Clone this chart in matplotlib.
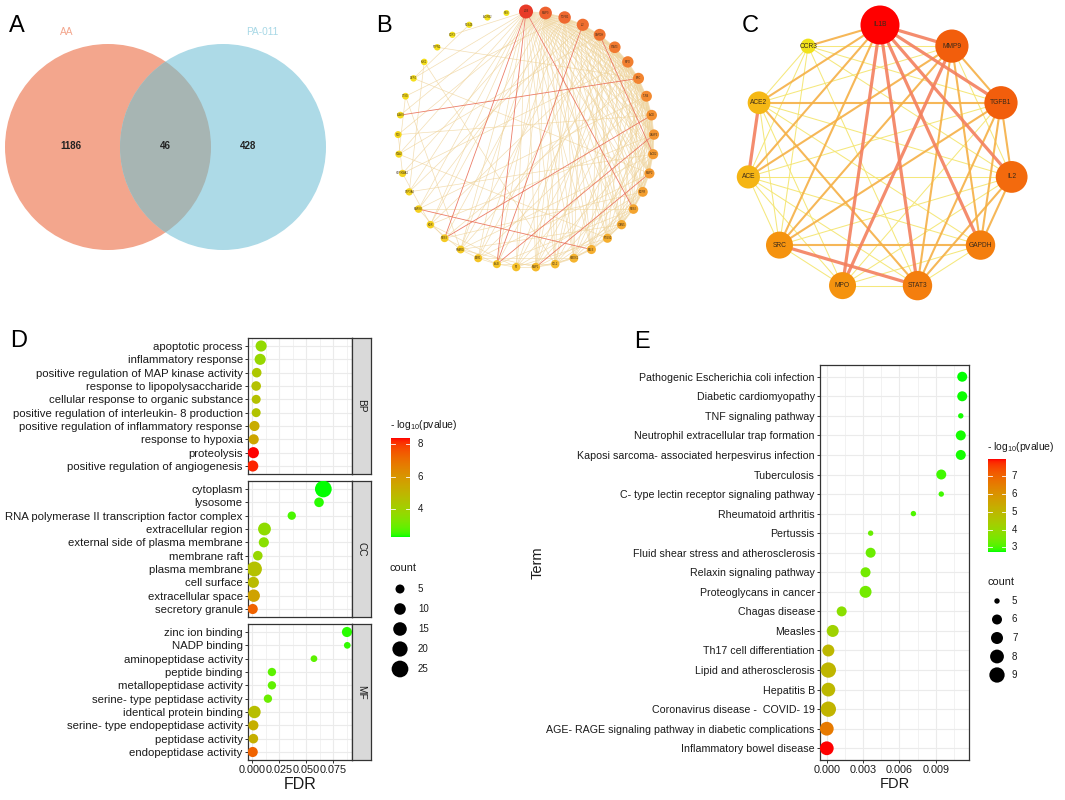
import numpy as np
import matplotlib.pyplot as plt
from matplotlib.patches import Circle
from matplotlib.colors import LinearSegmentedColormap

plt.rcParams['font.family'] = ['Liberation Sans', 'DejaVu Sans']

W, H, DPI = 1065, 800, 100

# ---------------------------------------------------------
# data
# ---------------------------------------------------------
venn_sets = ['AA', 'PA-011']
venn_counts = [1186, 46, 428]          # AA only, both, PA-011 only

b_genes = ['IL1B', 'MMP9', 'TGFB1', 'IL2', 'GAPDH', 'STAT3', 'MPO', 'SRC', 'TLR4', 'ACE',
           'CASP3', 'ACE2', 'MMP2', 'EGFR', 'NOS2', 'ICAM1', 'PTGS2', 'SELE', 'HMOX1', 'CCL2',
           'MMP1', 'F2', 'ALB', 'ESR1', 'PPARG', 'NOS3', 'KDR', 'MAPK8', 'CYP3A4', 'HSP90AA1',
           'PLAU', 'F10', 'ELANE', 'CTSG', 'DPP4', 'KLK1', 'PTPN1', 'CCR3', 'PDE4B', 'ADRB2', 'REN']
b_degree = [32, 27, 26, 25, 24, 23, 22, 21, 20, 19, 18, 17, 17, 16, 15, 14, 13, 13, 12, 11,
            11, 10, 9, 9, 8, 8, 7, 7, 6, 6, 5, 5, 4, 4, 3, 3, 3, 2, 2, 2, 1]
b_links = {
    0: [1, 2, 3, 4, 5, 6, 7, 8, 9, 10, 11, 12, 13, 14, 15, 16, 17, 18, 19, 20, 21, 22, 23, 24,
        25, 26, 27, 28, 30, 32, 34, 37],
    1: [2, 3, 4, 5, 6, 7, 8, 9, 10, 11, 12, 13, 14, 15, 16, 17, 18, 19, 20, 21, 22, 24, 26, 29, 31],
    2: [3, 4, 5, 6, 7, 8, 9, 10, 11, 12, 13, 14, 15, 17, 18, 19, 20, 23, 25, 27, 33],
    3: [4, 5, 6, 7, 8, 9, 10, 11, 12, 13, 15, 16, 18, 20, 22, 24, 28],
    4: [5, 6, 7, 8, 9, 10, 11, 12, 14, 16, 17, 19, 21, 23, 30],
    5: [6, 7, 8, 9, 10, 11, 12, 13, 15, 17, 19, 20, 22, 26],
    6: [7, 8, 9, 10, 11, 13, 14, 16, 18, 21, 24, 29],
    7: [8, 9, 10, 11, 12, 14, 15, 17, 20, 25, 32, 36],
    8: [9, 10, 11, 12, 13, 16, 18, 19, 23, 27],
    9: [10, 11, 12, 14, 15, 17, 21, 25, 31],
    10: [11, 12, 13, 16, 18, 20, 22, 26],
    11: [12, 13, 14, 15, 19, 24, 28],
    12: [13, 14, 16, 17, 20, 23, 34],
    13: [14, 15, 18, 21, 25],
    14: [15, 16, 19, 22, 27],
    15: [16, 17, 20, 24],
    16: [17, 18, 21, 30],
    17: [18, 19, 27],
    18: [19, 20, 23],
    19: [20, 22, 35],
    20: [21, 24],
    21: [22, 26],
    22: [23, 25],
    23: [24],
    24: [26, 33],
    25: [27],
    26: [29],
    28: [35],
    29: [31],
    30: [33],
    34: [38],
}
b_strong = [(0, 22), (0, 25), (3, 22), (7, 32), (9, 25), (17, 27), (0, 14), (4, 11), (10, 22), (12, 20)]

c_genes = ['IL1B', 'MMP9', 'TGFB1', 'IL2', 'GAPDH', 'STAT3', 'MPO', 'SRC', 'ACE', 'ACE2', 'CCR3']
c_score = [10, 8.8, 8.8, 8.5, 8.0, 8.0, 7.5, 7.5, 6.7, 6.6, 5.0]
# (from, to, weight class 1-3)
c_edges = [(0, 1, 3), (0, 2, 3), (0, 3, 3), (0, 4, 3), (0, 5, 3), (0, 6, 3), (0, 7, 2), (0, 8, 2),
           (0, 9, 2), (0, 10, 2), (1, 2, 2), (1, 3, 1), (1, 4, 2), (1, 5, 2), (1, 6, 3), (1, 7, 2),
           (1, 8, 2), (1, 9, 1), (1, 10, 1), (2, 3, 2), (2, 4, 2), (2, 5, 2), (2, 6, 1), (2, 7, 2),
           (2, 8, 1), (2, 9, 2), (2, 10, 1), (3, 4, 2), (3, 5, 2), (3, 6, 1), (3, 7, 1), (3, 8, 1),
           (3, 9, 1), (3, 10, 1), (4, 5, 1), (4, 6, 1), (4, 7, 2), (4, 8, 1), (4, 9, 1), (5, 6, 1),
           (5, 7, 3), (5, 8, 1), (5, 9, 2), (5, 10, 1), (6, 7, 1), (6, 8, 1), (6, 9, 1), (7, 8, 1),
           (7, 9, 1), (7, 10, 1), (8, 9, 3), (8, 10, 1), (9, 10, 1)]

bp_terms = ['apoptotic process', 'inflammatory response', 'positive regulation of MAP kinase activity',
            'response to lipopolysaccharide', 'cellular response to organic substance',
            'positive regulation of interleukin- 8 production',
            'positive regulation of inflammatory response', 'response to hypoxia', 'proteolysis',
            'positive regulation of angiogenesis']
bp_fdr = [0.0081, 0.0072, 0.0040, 0.0035, 0.0035, 0.0035, 0.0019, 0.0012, 0.0009, 0.0003]
bp_logp = [3.7, 3.8, 4.4, 4.6, 4.6, 4.5, 5.3, 5.5, 8.37, 8.2]
bp_count = [9, 9, 6, 6, 5, 5, 7, 7, 9, 9]

cc_terms = ['cytoplasm', 'lysosome', 'RNA polymerase II transcription factor complex',
            'extracellular region', 'external side of plasma membrane', 'membrane raft',
            'plasma membrane', 'cell surface', 'extracellular space', 'secretory granule']
cc_fdr = [0.0658, 0.0618, 0.0365, 0.0112, 0.0106, 0.0050, 0.0019, 0.0009, 0.0012, 0.0003]
cc_logp = [2.29, 2.4, 2.6, 3.6, 3.5, 3.8, 4.6, 4.8, 5.6, 7.3]
cc_count = [25, 6, 4, 13, 7, 6, 19, 9, 12, 7]

mf_terms = ['zinc ion binding', 'NADP binding', 'aminopeptidase activity', 'peptide binding',
            'metallopeptidase activity', 'serine- type peptidase activity',
            'identical protein binding', 'serine- type endopeptidase activity',
            'peptidase activity', 'endopeptidase activity']
mf_fdr = [0.0877, 0.0880, 0.0571, 0.0181, 0.0181, 0.0144, 0.0019, 0.0009, 0.0009, 0.0003]
mf_logp = [2.4, 2.45, 2.8, 2.8, 2.85, 3.0, 4.7, 5.2, 5.2, 7.3]
mf_count = [7, 2, 2, 4, 4, 4, 12, 7, 6, 7]

kegg_terms = ['Pathogenic Escherichia coli infection', 'Diabetic cardiomyopathy',
              'TNF signaling pathway', 'Neutrophil extracellular trap formation',
              'Kaposi sarcoma- associated herpesvirus infection', 'Tuberculosis',
              'C- type lectin receptor signaling pathway', 'Rheumatoid arthritis', 'Pertussis',
              'Fluid shear stress and atherosclerosis', 'Relaxin signaling pathway',
              'Proteoglycans in cancer', 'Chagas disease', 'Measles', 'Th17 cell differentiation',
              'Lipid and atherosclerosis', 'Hepatitis B', 'Coronavirus disease -  COVID- 19',
              'AGE- RAGE signaling pathway in diabetic complications', 'Inflammatory bowel disease']
kegg_fdr = [0.01118, 0.01118, 0.01106, 0.01106, 0.01106, 0.00945, 0.00945, 0.00715, 0.00362,
            0.00362, 0.00320, 0.00320, 0.00123, 0.00049, 0.00013, 0.00013, 0.00013, 0.00013,
            0.0, 0.0]
kegg_logp = [2.74, 2.78, 2.8, 2.8, 2.8, 2.95, 2.95, 3.05, 3.3, 3.35, 3.45, 3.45, 3.8, 4.2,
             5.0, 5.05, 5.0, 5.1, 6.6, 7.98]
kegg_count = [6, 6, 5, 6, 6, 6, 5, 5, 5, 6, 6, 7, 6, 7, 7, 9, 8, 9, 8, 8]

go_size_breaks = [5, 10, 15, 20, 25]
kegg_size_breaks = [5, 6, 7, 8, 9]


# ---------------------------------------------------------
# helpers
# ---------------------------------------------------------
def px(x0, y0, x1, y1):
    return [x0 / W, 1 - y1 / H, (x1 - x0) / W, (y1 - y0) / H]


def area(d):
    # pixel diameter -> scatter marker area (pt^2)
    return (np.asarray(d, float) * 72 / DPI) ** 2


def go_dia(c):
    return 2.76 + 2.79 * np.sqrt(np.asarray(c, float))


def kegg_dia(c):
    return np.interp(c, kegg_size_breaks, [5.4, 10.0, 12.0, 13.8, 15.3])


# green -> red gradient interpolated in CIELAB (like ggplot)
M = np.array([[0.4124564, 0.3575761, 0.1804375],
              [0.2126729, 0.7151522, 0.0721750],
              [0.0193339, 0.1191920, 0.9503041]])
WHITE = np.array([0.95047, 1.0, 1.08883])


def rgb2lab(rgb):
    c = np.asarray(rgb, float)
    lin = np.where(c <= 0.04045, c / 12.92, ((c + 0.055) / 1.055) ** 2.4)
    xyz = M @ lin / WHITE
    f = np.where(xyz > (6 / 29) ** 3, np.cbrt(xyz), xyz / (3 * (6 / 29) ** 2) + 4 / 29)
    return np.array([116 * f[1] - 16, 500 * (f[0] - f[1]), 200 * (f[1] - f[2])])


def lab2rgb(lab):
    L, a, b = lab
    fy = (L + 16) / 116
    f = np.array([fy + a / 500, fy, fy - b / 200])
    xyz = np.where(f > 6 / 29, f ** 3, 3 * (6 / 29) ** 2 * (f - 4 / 29)) * WHITE
    lin = np.clip(np.linalg.solve(M, xyz), 0, 1)
    return np.where(lin <= 0.0031308, 12.92 * lin, 1.055 * lin ** (1 / 2.4) - 0.055)


lab_lo, lab_hi = rgb2lab([0, 1, 0]), rgb2lab([1, 0, 0])
gr_cmap = LinearSegmentedColormap.from_list(
    'gr', [np.clip(lab2rgb(lab_lo + t * (lab_hi - lab_lo)), 0, 1) for t in np.linspace(0, 1, 64)])

net_cmap = LinearSegmentedColormap.from_list(
    'net', [(0, '#F5E61A'), (0.18, '#F5D21E'), (0.35, '#F5B42E'), (0.6, '#F38C30'),
            (0.8, '#EF6A30'), (1, '#E83A28')])
c_cmap = LinearSegmentedColormap.from_list(
    'cnet', [(0, '#F0E21A'), (0.35, '#F5B414'), (0.55, '#F5880E'), (0.8, '#F2560C'), (1, '#FF0000')])

TXT = '#1A1A1A'
EDGE = '#333333'
GRID = '#EBEBEB'

fig = plt.figure(figsize=(W / DPI, H / DPI), dpi=DPI)
ax0 = fig.add_axes([0, 0, 1, 1])
ax0.set_xlim(0, W)
ax0.set_ylim(H, 0)
ax0.axis('off')

for lab, x, y in [('A', 9, 32), ('B', 376, 32), ('C', 742, 32), ('D', 10, 347), ('E', 634, 348)]:
    ax0.text(x, y, lab, fontsize=17, ha='left', va='baseline', color='black')

# ---------------------------------------------------------
# A: Venn
# ---------------------------------------------------------
cx1, cx2, cy, r = 108, 223, 147, 103
left = Circle((cx1, cy), r, fc='#F3A68D', ec='none')
right = Circle((cx2, cy), r, fc='#ADDAE7', ec='none')
ax0.add_patch(left)
ax0.add_patch(right)
lens = Circle((cx1, cy), r, fc='#A7B5B3', ec='none')
ax0.add_patch(lens)
lens.set_clip_path(right)
ax0.text(cx1 - 41, 32, venn_sets[0], color='#F3A68D', fontsize=7.3, ha='center', va='center')
ax0.text(cx2 + 39, 32, venn_sets[1], color='#A8D8E6', fontsize=7.3, ha='center', va='center')
for x, n in zip([cx1 - 37.5, (cx1 + cx2) / 2, cx2 + 25], venn_counts):
    ax0.text(x, cy - 1, str(n), fontsize=7, fontweight='bold', ha='center', va='center', color='#222222')

# ---------------------------------------------------------
# B: full PPI network
# ---------------------------------------------------------
bcx, bcy, bR = 526, 139.5, 128
nb = len(b_genes)
ang = np.deg2rad(90 - np.arange(nb) * 360 / nb)
bx, by = bcx + bR * np.cos(ang), bcy - bR * np.sin(ang)
strong = set(b_strong)
for i, js in b_links.items():
    for j in js:
        if (i, j) in strong:
            continue
        ax0.plot([bx[i], bx[j]], [by[i], by[j]], color='#EFD39A', lw=0.5, alpha=0.75, zorder=2)
for i, j in b_strong:
    ax0.plot([bx[i], bx[j]], [by[i], by[j]], color='#E8664E', lw=0.6, alpha=0.85, zorder=2)
deg = np.array(b_degree, float)
tb = (deg - deg.min()) / (deg.max() - deg.min())
ax0.scatter(bx, by, s=area(6 + 8 * tb), c=net_cmap(tb), edgecolors='none', zorder=3)
for i in range(nb):
    ax0.text(bx[i], by[i], b_genes[i], fontsize=1.8, ha='center', va='center', color='#3A2A1A', zorder=4)

# ---------------------------------------------------------
# C: hub network
# ---------------------------------------------------------
ccx, ccy, cR = 880, 158, 133
nc = len(c_genes)
ang = np.deg2rad(90 - np.arange(nc) * 360 / nc)
cxp, cyp = ccx + cR * np.cos(ang), ccy - cR * np.sin(ang)
estyle = {1: ('#F4E56E', 0.75), 2: ('#F5B046', 1.5), 3: ('#F3805E', 2.3)}
for i, j, w in sorted(c_edges, key=lambda e: e[2]):
    col, lw = estyle[w]
    ax0.plot([cxp[i], cxp[j]], [cyp[i], cyp[j]], color=col, lw=lw, alpha=0.9, zorder=2,
             solid_capstyle='butt')
sc = np.array(c_score, float)
tc = (sc - sc.min()) / (sc.max() - sc.min())
ax0.scatter(cxp, cyp, s=area(15 + 24 * tc), c=c_cmap(tc), edgecolors='none', zorder=3)
for i in range(nc):
    ax0.text(cxp[i], cyp[i], c_genes[i], fontsize=4.8, ha='center', va='center', color='#3A2A1A', zorder=4)


# ---------------------------------------------------------
# D / E: dot plots
# ---------------------------------------------------------
def pad_lim(vals):
    lo, hi = min(vals), max(vals)
    d = (hi - lo) * 0.05
    return lo - d, hi + d


def dot_panel(rect, terms, fdr, logp, count, xlim, vlim, dia, major, minor, labels, show_x, ysize):
    ax = fig.add_axes(rect)
    n = len(terms)
    ax.scatter(fdr, np.arange(n), s=area(dia(count)), c=logp, cmap=gr_cmap, vmin=vlim[0],
               vmax=vlim[1], edgecolors='none', zorder=3)
    ax.set_xlim(xlim)
    ax.set_ylim(n - 0.4, -0.6)
    ax.set_yticks(np.arange(n))
    ax.set_yticklabels(terms)
    ax.set_xticks(major)
    ax.set_xticks(minor, minor=True)
    ax.set_xticklabels(labels)
    ax.set_axisbelow(True)
    ax.grid(which='major', color=GRID, lw=0.8)
    ax.grid(which='minor', axis='x', color=GRID, lw=0.45)
    ax.tick_params(which='minor', length=0)
    ax.tick_params(axis='both', which='major', length=2.2, width=0.7, color=EDGE, pad=1.5,
                   labelcolor=TXT)
    ax.tick_params(axis='y', labelsize=ysize)
    ax.tick_params(axis='x', labelsize=7.8)
    if not show_x:
        ax.tick_params(axis='x', length=0, labelbottom=False)
    for s in ax.spines.values():
        s.set_color(EDGE)
        s.set_linewidth(0.9)
    return ax


def strip(rect, text):
    sax = fig.add_axes(rect)
    sax.set_facecolor('#D9D9D9')
    sax.set_xticks([])
    sax.set_yticks([])
    for s in sax.spines.values():
        s.set_color(EDGE)
        s.set_linewidth(0.9)
    sax.text(0.5, 0.5, text, rotation=-90, ha='center', va='center', fontsize=7.2, color=TXT,
             transform=sax.transAxes)


def colorbar(rect, vlim, ticks, label_x):
    cax = fig.add_axes(rect)
    grad = np.linspace(vlim[0], vlim[1], 256)[:, None]
    cax.imshow(grad, aspect='auto', cmap=gr_cmap, origin='lower', vmin=vlim[0], vmax=vlim[1],
               extent=[0, 1, vlim[0], vlim[1]])
    for t in ticks:
        cax.plot([0, 0.2], [t, t], color='white', lw=0.6)
        cax.plot([0.8, 1], [t, t], color='white', lw=0.6)
        cax.text(label_x, t, str(t), va='center', ha='left', fontsize=7, color=TXT)
    cax.set_xlim(0, 1)
    cax.set_ylim(vlim)
    cax.axis('off')


def size_legend(x, y0, step, breaks, dia, label_x, title_y):
    ax0.text(x - 10, title_y, 'count', fontsize=7.8, ha='left', va='center', color=TXT)
    ys = y0 + step * np.arange(len(breaks))
    ax0.scatter([x] * len(breaks), ys, s=area(dia(breaks)), c='black', edgecolors='none')
    for yy, b in zip(ys, breaks):
        ax0.text(label_x, yy, str(b), fontsize=7, ha='left', va='center', color=TXT)


# D
go_fdr = bp_fdr + cc_fdr + mf_fdr
go_logp = bp_logp + cc_logp + mf_logp
go_xlim = pad_lim(go_fdr)
go_vlim = (min(go_logp), max(go_logp))
go_major = [0, 0.025, 0.05, 0.075]
go_minor = [0.0125, 0.0375, 0.0625, 0.0875]
go_labels = ['0.000', '0.025', '0.050', '0.075']
facets = [(bp_terms, bp_fdr, bp_logp, bp_count, 'BP', 338, 474),
          (cc_terms, cc_fdr, cc_logp, cc_count, 'CC', 481, 617),
          (mf_terms, mf_fdr, mf_logp, mf_count, 'MF', 624, 760)]
for k, (terms, fdr, logp, count, name, y0, y1) in enumerate(facets):
    ax = dot_panel(px(248, y0, 352, y1), terms, fdr, logp, count, go_xlim, go_vlim, go_dia,
                   go_major, go_minor, go_labels, k == 2, 8.2)
    strip(px(352, y0, 371, y1), name)
    if k == 2:
        ax.set_xlabel('FDR', fontsize=11.5, color=TXT, labelpad=1)

ax0.text(390, 425, '- log$_{\\mathregular{10}}$(pvalue)', fontsize=7.5, ha='left', va='center', color=TXT)
colorbar(px(391, 438, 410, 537), go_vlim, [4, 6, 8], 1.42)
size_legend(400, 589, 20, go_size_breaks, go_dia, 418, 568)

# E
kx = pad_lim(kegg_fdr)
kv = (min(kegg_logp), max(kegg_logp))
axe = dot_panel(px(820, 365, 969, 760), kegg_terms, kegg_fdr, kegg_logp, kegg_count, kx, kv,
                kegg_dia, [0, 0.003, 0.006, 0.009], [0.0015, 0.0045, 0.0075, 0.0105],
                ['0.000', '0.003', '0.006', '0.009'], True, 7.7)
axe.set_xlabel('FDR', fontsize=10.5, color=TXT, labelpad=1)
axe.set_ylabel('Term', fontsize=10.5, color=TXT, labelpad=1)

ax0.text(987, 447, '- log$_{\\mathregular{10}}$(pvalue)', fontsize=7.5, ha='left', va='center', color=TXT)
colorbar(px(988, 459, 1006, 552), kv, [3, 4, 5, 6, 7], 1.33)
size_legend(997, 601, 18.5, kegg_size_breaks, kegg_dia, 1012, 582)

fig.savefig('out.png', dpi=DPI)
